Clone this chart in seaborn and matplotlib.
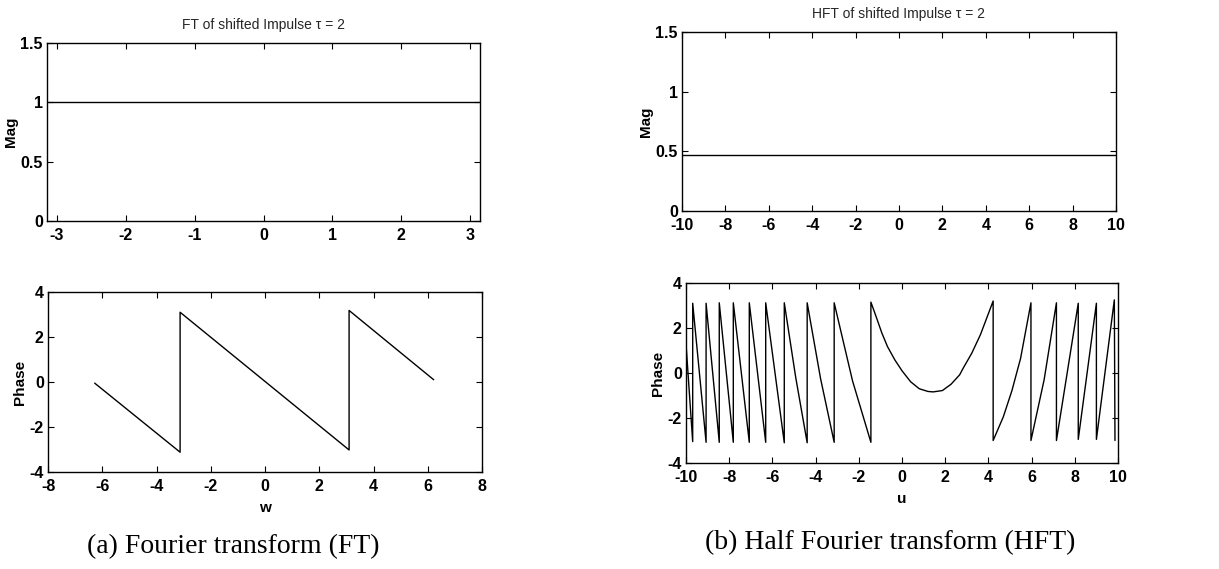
import numpy as np
import pandas as pd
import seaborn as sns
import matplotlib
matplotlib.use("Agg")
import matplotlib.pyplot as plt

# ---- data -------------------------------------------------------------
# FT of the shifted impulse: magnitude over one period of w
ft_mag_w = [-3.1416, 3.1416]
ft_mag = [1.0, 1.0]

# FT phase (wrapped), vertices of the sawtooth; repeated w marks a wrap jump
ft_phase_w = [-6.28, -3.13, -3.13, 3.10, 3.10, 6.22]
ft_phase = [-0.05, -3.12, 3.10, -3.02, 3.18, 0.10]

# HFT of the shifted impulse: magnitude over u
hft_mag_u = [-10.0, 10.0]
hft_mag = [0.47, 0.47]

# HFT phase (wrapped chirp); repeated u marks a wrap jump
hft_phase_u = [-10.0, -9.69, -9.69, -9.07, -9.07, -8.46, -8.46, -7.81, -7.81,
               -7.07, -7.07, -6.31, -6.31, -5.45, -5.45, -4.92, -4.39, -4.39,
               -3.77, -3.14, -3.14, -2.29, -1.44, -1.44, -1.20, -0.93, -0.67,
               -0.33, 0.00, 0.40, 0.80, 1.20, 1.44, 1.87, 2.27, 2.67, 2.83,
               3.23, 3.63, 3.89, 4.22, 4.22, 4.69, 5.09, 5.49, 5.97, 5.97,
               6.58, 7.15, 7.15, 8.16, 8.16, 9.00, 9.00, 9.83, 9.86]
hft_phase = [1.30, -3.05, 3.10, -3.08, 3.10, -3.08, 3.12, -3.08, 3.12,
             -3.08, 3.12, -3.08, 3.12, -3.10, 3.12, -0.20, -3.10, 3.12,
             -0.25, -3.08, 3.12, -0.35, -3.08, 3.15, 2.51, 1.77, 1.17,
             0.58, 0.10, -0.39, -0.70, -0.82, -0.84, -0.78, -0.50, -0.08, 0.21,
             0.88, 1.70, 2.36, 3.20, -3.00, -1.95, -0.78, 0.65, 3.12, -3.00,
             -0.30, 3.12, -3.00, 3.10, -2.95, 3.10, -2.95, 3.25, -3.00]

ft_mag_yticks = [0, 0.5, 1, 1.5]
ft_mag_xticks = [-3, -2, -1, 0, 1, 2, 3]
phase_yticks = [-4, -2, 0, 2, 4]
ft_phase_xticks = [-8, -6, -4, -2, 0, 2, 4, 6, 8]
hft_xticks = [-10, -8, -6, -4, -2, 0, 2, 4, 6, 8, 10]

# ---- style ------------------------------------------------------------
sns.set_theme(style="ticks")
plt.rcParams["font.family"] = ["Liberation Sans", "DejaVu Sans"]
plt.rcParams["axes.linewidth"] = 1.0
plt.rcParams["axes.edgecolor"] = "black"

W, H = 1219, 569
fig = plt.figure(figsize=(W / 100, H / 100), dpi=100)
fig.patch.set_facecolor("white")


def box(x0, y0, x1, y1):
    """Axes from pixel corners (top-left origin)."""
    return fig.add_axes([x0 / W, 1 - y1 / H, (x1 - x0) / W, (y1 - y0) / H])


def style(ax, xlim, ylim, xticks, yticks, ylabel, xlabel=None):
    ax.set_xlim(*xlim)
    ax.set_ylim(*ylim)
    ax.set_xticks(xticks)
    ax.set_yticks(yticks)
    ax.set_xticklabels([f"{t:g}" for t in xticks], fontweight="bold")
    ax.set_yticklabels([f"{t:g}" for t in yticks], fontweight="bold")
    ax.tick_params(direction="in", top=True, right=True, length=4, width=0.8,
                   labelsize=11.5, colors="black")
    ax.tick_params(axis="x", pad=5)
    ax.tick_params(axis="y", pad=3)
    for s in ax.spines.values():
        s.set_visible(True)
        s.set_color("black")
    ax.set_ylabel(ylabel, fontsize=11, fontweight="bold", color="black", labelpad=2)
    ax.set_xlabel(xlabel if xlabel else "", fontsize=11, fontweight="bold",
                  color="black", labelpad=5)
    ax.set_facecolor("white")
    ax.grid(False)


line_kw = dict(color="black", linewidth=1.0, estimator=None, sort=False, legend=False)
narrow = ["Liberation Sans Narrow", "Liberation Sans", "DejaVu Sans"]

# (a) FT magnitude
ax1 = box(47, 43, 480, 221)
sns.lineplot(data=pd.DataFrame({"w": ft_mag_w, "m": ft_mag}), x="w", y="m", ax=ax1, **line_kw)
style(ax1, (-3.1416, 3.1416), (0, 1.5), ft_mag_xticks, ft_mag_yticks, "Mag")
ax1.set_title("FT of shifted Impulse τ = 2", fontsize=10, family=narrow, pad=10)

# (a) FT phase
ax2 = box(48, 292, 482, 472)
sns.lineplot(data=pd.DataFrame({"w": ft_phase_w, "p": ft_phase}), x="w", y="p", ax=ax2, **line_kw)
style(ax2, (-8, 8), (-4, 4), ft_phase_xticks, phase_yticks, "Phase", "w")

# (b) HFT magnitude
ax3 = box(682, 32, 1116, 211)
sns.lineplot(data=pd.DataFrame({"u": hft_mag_u, "m": hft_mag}), x="u", y="m", ax=ax3, **line_kw)
style(ax3, (-10, 10), (0, 1.5), hft_xticks, ft_mag_yticks, "Mag")
ax3.set_title("HFT of shifted Impulse τ = 2", fontsize=10, family=narrow, pad=10)

# (b) HFT phase
ax4 = box(686, 283, 1118, 463)
sns.lineplot(data=pd.DataFrame({"u": hft_phase_u, "p": hft_phase}), x="u", y="p", ax=ax4, **line_kw)
style(ax4, (-10, 10), (-4, 4), hft_xticks, phase_yticks, "Phase", "u")

# captions
fig.text(233 / W, 1 - 547 / H, "(a) Fourier transform (FT)", ha="center", va="center",
         fontsize=20, family=["Liberation Serif", "DejaVu Serif"], color="black")
fig.text(890 / W, 1 - 543 / H, "(b) Half Fourier transform (HFT)", ha="center", va="center",
         fontsize=20, family=["Liberation Serif", "DejaVu Serif"], color="black")

fig.savefig("out.png", dpi=100, facecolor="white")
